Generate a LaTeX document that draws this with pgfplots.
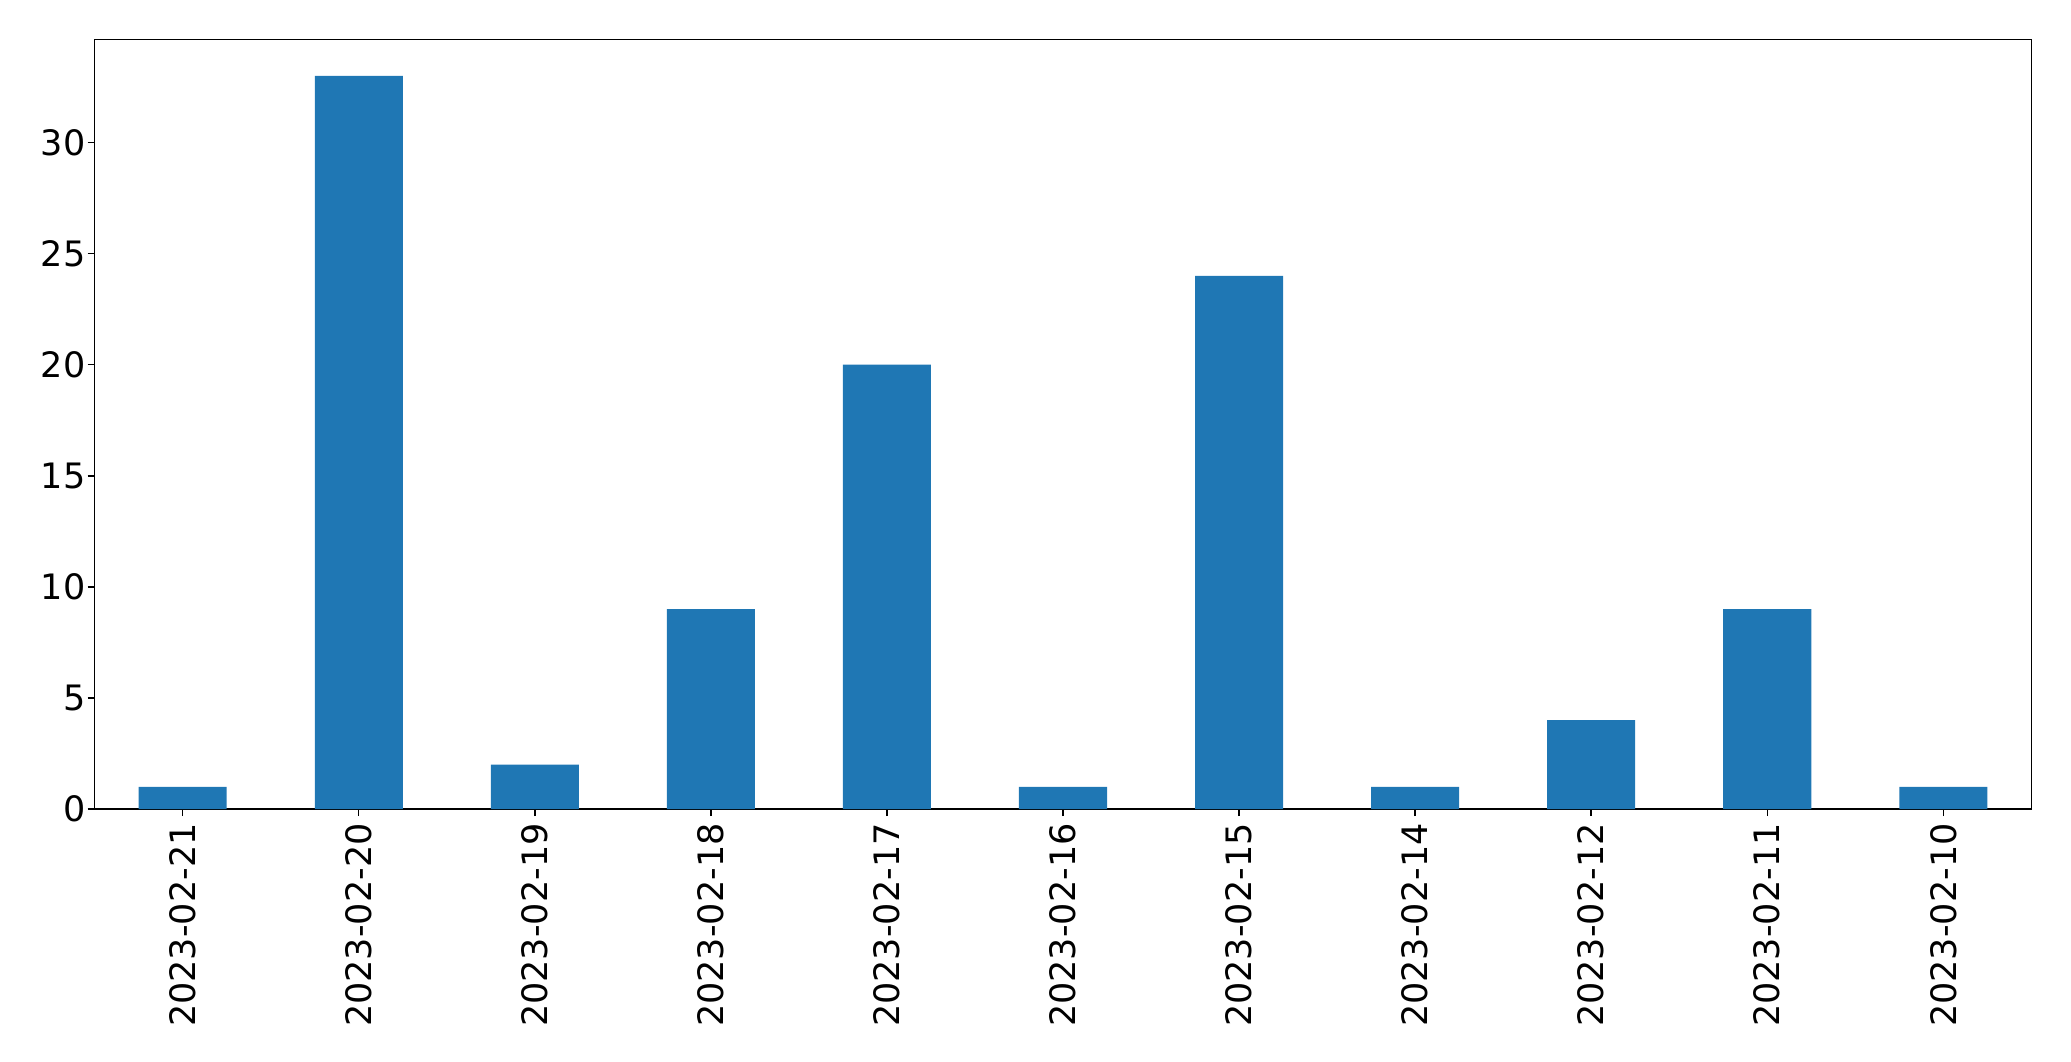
\documentclass[border=0pt]{standalone}
\usepackage{fontspec}
\setmainfont{DejaVu Sans}
\usepackage{pgfplots}
\pgfplotsset{compat=1.18}
\definecolor{mplblue}{HTML}{1F77B4}
\begin{document}
\fontsize{17.5}{20}\selectfont
\begin{tikzpicture}
\begin{axis}[
  name=ax,
  scale only axis,
  width=968.3pt, height=384.85pt,
  xmin=-0.5, xmax=10.5, ymin=0, ymax=34.65,
  axis line style={line width=0.7pt},
  tick style={line width=0.7pt, black},
  tick align=outside,
  major tick length=3.5pt,
  xtick pos=bottom, ytick pos=left,
  xtick={0,1,2,3,4,5,6,7,8,9,10},
  xticklabels={2023-02-21,2023-02-20,2023-02-19,2023-02-18,2023-02-17,2023-02-16,2023-02-15,2023-02-14,2023-02-12,2023-02-11,2023-02-10},
  ytick={0,5,10,15,20,25,30},
  x tick label style={rotate=90, anchor=east, inner sep=0pt},
  xticklabel shift=3.5pt,
  y tick label style={inner sep=0pt},
  yticklabel shift=1pt,
  /pgf/number format/assume math mode=true,
  ticklabel style={font=\fontsize{17.5}{20}\selectfont},
]
\addplot[ybar, bar width=0.5, bar shift=0pt, fill=mplblue, draw=none]
  coordinates {(0,1) (1,33) (2,2) (3,9) (4,20) (5,1) (6,24) (7,1) (8,4) (9,9) (10,1)};
\end{axis}
\path[use as bounding box] ([xshift=-47.35pt,yshift=-126pt]ax.south west) rectangle ([xshift=19.85pt,yshift=19.65pt]ax.north east);
\end{tikzpicture}
\end{document}
